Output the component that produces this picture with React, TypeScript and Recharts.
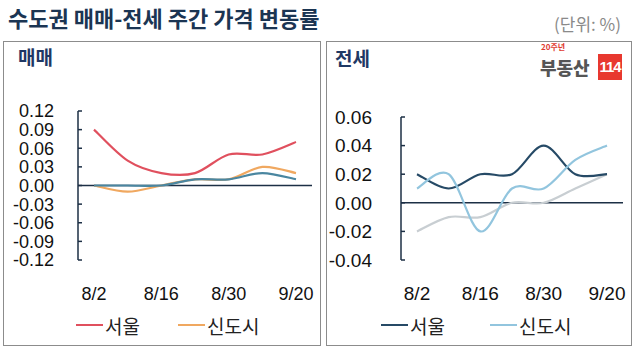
import { LineChart, Line, XAxis, YAxis, ReferenceLine, Legend } from 'recharts'

const weeks = ['8/2', '8/9', '8/16', '8/23', '8/30', '9/6', '9/20']

// 매매
const saleSeoul = [0.09, 0.04, 0.02, 0.02, 0.05, 0.05, 0.07]
const saleNewTown = [0, -0.01, 0, 0.01, 0.01, 0.03, 0.02]
const saleGyeonggi = [0, 0, 0, 0.01, 0.01, 0.02, 0.01]
const saleTicks = [-0.12, -0.09, -0.06, -0.03, 0, 0.03, 0.06, 0.09, 0.12]

// 전세
const jeonseSeoul = [0.02, 0.01, 0.02, 0.02, 0.04, 0.02, 0.02]
const jeonseNewTown = [0.01, 0.02, -0.02, 0.01, 0.01, 0.03, 0.04]
const jeonseGyeonggi = [-0.02, -0.01, -0.01, 0, 0, 0.01, 0.02]
const jeonseTicks = [-0.04, -0.02, 0, 0.02, 0.04, 0.06]

const NAVY = '#1c2f45'
const KR = '"Malgun Gothic", "Noto Sans CJK KR", sans-serif'
const NUM = 'Arial, "Liberation Sans", sans-serif'

// excel-like smoothed line (catmull-rom through the points)
const excelSmooth = (context: any) => {
  let xs: number[] = []
  let ys: number[] = []
  return {
    areaStart() {},
    areaEnd() {},
    lineStart() {
      xs = []
      ys = []
    },
    point(x: number, y: number) {
      xs.push(+x)
      ys.push(+y)
    },
    lineEnd() {
      const n = xs.length
      if (!n) return
      context.moveTo(xs[0], ys[0])
      for (let i = 0; i < n - 1; i++) {
        const p = Math.max(i - 1, 0)
        const q = Math.min(i + 2, n - 1)
        context.bezierCurveTo(
          xs[i] + (xs[i + 1] - xs[p]) / 6,
          ys[i] + (ys[i + 1] - ys[p]) / 6,
          xs[i + 1] - (xs[q] - xs[i]) / 6,
          ys[i + 1] - (ys[q] - ys[i]) / 6,
          xs[i + 1],
          ys[i + 1],
        )
      }
    },
  }
}

interface SeriesDef {
  key: string
  name: string
  color: string
  values: number[]
  legend: boolean
}

interface PanelProps {
  width: number
  height: number
  series: SeriesDef[]
  ticks: number[]
  axisWidth: number
  labelMargin: number
  margin: { top: number; right: number; bottom: number; left: number }
  legendX: number[]
  legendTop: number
  fontSize: number
}

function renderLegend(xs: number[]) {
  return (props: any) => {
    const items = (props.payload || []).filter((p: any) => p.type !== 'none')
    return (
      <div style={{ position: 'relative', height: 26 }}>
        {items.map((it: any, i: number) => (
          <div
            key={it.value}
            style={{
              position: 'absolute',
              left: xs[i],
              top: 0,
              height: 26,
              display: 'flex',
              alignItems: 'center',
              whiteSpace: 'nowrap',
            }}
          >
            <span style={{ display: 'inline-block', width: 27, height: 2.5, background: it.color }} />
            <span style={{ marginLeft: 2, fontFamily: KR, fontSize: 19, color: '#222' }}>{it.value}</span>
          </div>
        ))}
      </div>
    )
  }
}

function Panel(p: PanelProps) {
  const data = weeks.map((w, i) => {
    const row: Record<string, string | number> = { week: w }
    p.series.forEach((s) => {
      row[s.key] = s.values[i]
    })
    return row
  })

  return (
    <LineChart width={p.width} height={p.height} data={data} margin={p.margin}>
      <XAxis
        dataKey="week"
        interval={1}
        axisLine={false}
        tickLine={false}
        tickSize={0}
        tickMargin={27}
        height={40}
        padding={{ left: 16, right: 16 }}
        tick={{ fill: '#111', fontSize: p.fontSize, fontFamily: NUM }}
      />
      <YAxis
        domain={[p.ticks[0], p.ticks[p.ticks.length - 1]]}
        ticks={p.ticks}
        interval={0}
        width={p.axisWidth}
        tickSize={-4}
        tickMargin={p.labelMargin}
        axisLine={{ stroke: NAVY, strokeWidth: 1.5 }}
        tickLine={{ stroke: NAVY, strokeWidth: 1.5 }}
        tickFormatter={(v: number) => v.toFixed(2)}
        tick={{ fill: '#111', fontSize: p.fontSize, fontFamily: NUM }}
      />
      <ReferenceLine y={0} stroke={NAVY} strokeWidth={1.5} />
      {p.series.map((s) => (
        <Line
          key={s.key}
          dataKey={s.key}
          name={s.name}
          type={excelSmooth as any}
          stroke={s.color}
          strokeWidth={2.2}
          dot={false}
          activeDot={false}
          legendType={s.legend ? 'line' : 'none'}
          isAnimationActive={false}
        />
      ))}
      <Legend
        layout="horizontal"
        verticalAlign="middle"
        align="center"
        wrapperStyle={{ top: p.legendTop, left: 0, width: p.width, height: 26 }}
        content={renderLegend(p.legendX)}
      />
    </LineChart>
  )
}

const boxStyle = {
  position: 'absolute' as const,
  top: 41,
  height: 305,
  border: '1.5px solid #8c8c8c',
  boxSizing: 'border-box' as const,
}

export default function App() {
  return (
    <div style={{ position: 'absolute', left: 0, top: 0, width: 635, height: 353, background: '#fff', overflow: 'hidden' }}>
      <div
        style={{
          position: 'absolute',
          left: 8,
          top: 6,
          fontFamily: KR,
          fontSize: 22,
          fontWeight: 700,
          lineHeight: 1,
          color: '#1b3553',
          whiteSpace: 'nowrap',
        }}
      >
        수도권 매매-전세 주간 가격 변동률
      </div>
      <div
        style={{
          position: 'absolute',
          left: 554,
          top: 15,
          fontFamily: KR,
          fontSize: 17,
          lineHeight: 1,
          color: '#8a8a8a',
          whiteSpace: 'nowrap',
        }}
      >
        (단위: %)
      </div>

      <div style={{ ...boxStyle, left: 3, width: 318 }} />
      <div style={{ ...boxStyle, left: 326, width: 306 }} />

      <div style={{ position: 'absolute', left: 18, top: 47, fontFamily: KR, fontSize: 19, fontWeight: 700, lineHeight: 1, color: '#1f3864' }}>
        매매
      </div>
      <div style={{ position: 'absolute', left: 335, top: 48, fontFamily: KR, fontSize: 19, fontWeight: 700, lineHeight: 1, color: '#1f3864' }}>
        전세
      </div>

      {/* logo */}
      <div style={{ position: 'absolute', left: 541, top: 43, fontFamily: KR, fontSize: 8, fontWeight: 700, lineHeight: 1, color: '#e03a30' }}>
        20주년
      </div>
      <div style={{ position: 'absolute', left: 540, top: 58, fontFamily: KR, fontSize: 18, fontWeight: 900, lineHeight: 1, color: '#555', letterSpacing: 0 }}>
        부동산
      </div>
      <div
        style={{
          position: 'absolute',
          left: 598,
          top: 54,
          width: 24,
          height: 26,
          background: '#e8382f',
          color: '#fff',
          fontFamily: NUM,
          fontWeight: 700,
          fontSize: 15,
          lineHeight: '26px',
          textAlign: 'center',
          letterSpacing: -1,
        }}
      >
        114
      </div>

      <div style={{ position: 'absolute', left: 0, top: 90 }}>
        <Panel
          width={320}
          height={250}
          ticks={saleTicks}
          axisWidth={78}
          labelMargin={28}
          margin={{ top: 21, right: 8, bottom: 40, left: 0 }}
          legendX={[76, 178]}
          legendTop={222}
          fontSize={18}
          series={[
            { key: 'seoul', name: '서울', color: '#e0505e', values: saleSeoul, legend: true },
            { key: 'newtown', name: '신도시', color: '#f0a860', values: saleNewTown, legend: true },
            { key: 'gyeonggi', name: '경기·인천', color: '#4a86a0', values: saleGyeonggi, legend: false },
          ]}
        />
      </div>

      <div style={{ position: 'absolute', left: 326, top: 90 }}>
        <Panel
          width={306}
          height={250}
          ticks={jeonseTicks}
          axisWidth={75}
          labelMargin={33}
          margin={{ top: 27, right: 9, bottom: 40, left: 0 }}
          legendX={[55, 164]}
          legendTop={222}
          fontSize={19}
          series={[
            { key: 'gyeonggi', name: '경기·인천', color: '#c8ced2', values: jeonseGyeonggi, legend: false },
            { key: 'seoul', name: '서울', color: '#264a66', values: jeonseSeoul, legend: true },
            { key: 'newtown', name: '신도시', color: '#92c5de', values: jeonseNewTown, legend: true },
          ]}
        />
      </div>
    </div>
  )
}
